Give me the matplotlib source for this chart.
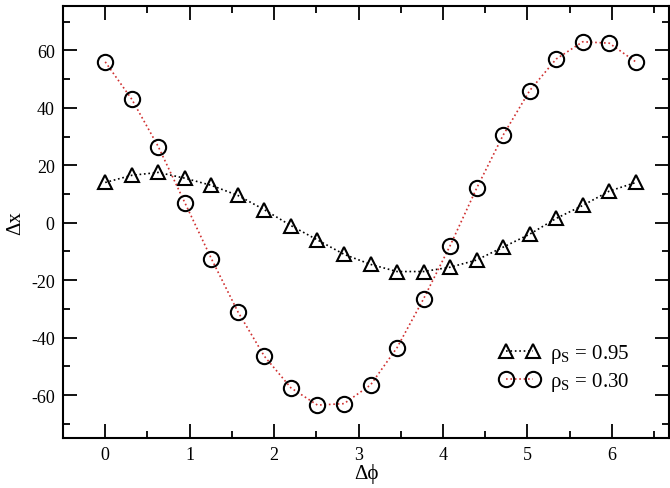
import numpy as np
import matplotlib.pyplot as plt
from matplotlib.ticker import MultipleLocator

plt.rcParams['font.family'] = ['Liberation Serif', 'DejaVu Serif']
plt.rcParams['mathtext.fontset'] = 'custom'
plt.rcParams['mathtext.rm'] = 'Liberation Serif'
plt.rcParams['axes.unicode_minus'] = False

# phase difference, 0..2pi in steps of pi/10
dphi = np.arange(21) * np.pi / 10
dx_095 = [14, 16.5, 17.5, 15.5, 13, 9.5, 4.5, -1, -6, -11, -14.5,
          -17, -17, -15.5, -13, -8.5, -4, 1.5, 6, 11, 14]
dx_030 = [56, 43, 26.5, 7, -12.5, -31, -46.5, -57.5, -63.5, -63, -56.5,
          -43.5, -26.5, -8, 12, 30.5, 46, 57, 63, 62.5, 56]
labels = [r'ρ$_\mathrm{S}$ = 0.95', r'ρ$_\mathrm{S}$ = 0.30']

fig = plt.figure(figsize=(6.7, 4.89), dpi=100)
ax = fig.add_axes([0.094, 0.102, 0.905, 0.884])

ax.plot(dphi, dx_095, ls=':', color='black', lw=1.2, marker='^', ms=10,
        mfc='none', mec='black', mew=1.5, label=labels[0])
ax.plot(dphi, dx_030, ls=':', color='#d03030', lw=1.2, marker='o', ms=11,
        mfc='none', mec='black', mew=1.5, label=labels[1])

ax.set_xlim(-0.5, 6.68)
ax.set_ylim(-75, 75.5)
ax.xaxis.set_major_locator(MultipleLocator(1))
ax.xaxis.set_minor_locator(MultipleLocator(0.5))
ax.yaxis.set_major_locator(MultipleLocator(20))
ax.yaxis.set_minor_locator(MultipleLocator(10))
ax.tick_params(which='both', direction='in', top=True, right=True, width=1.3)
ax.tick_params(which='major', length=10, labelsize=13, pad=6)
ax.tick_params(which='minor', length=5)
for s in ax.spines.values():
    s.set_linewidth(1.5)

ax.set_xlabel('Δϕ', fontsize=15, labelpad=0)
ax.set_ylabel('Δx', fontsize=15, labelpad=4)

ax.legend(loc='lower right', bbox_to_anchor=(0.965, 0.06), numpoints=2,
          frameon=False, fontsize=15, handlelength=1.9, handletextpad=0.5,
          labelspacing=0.25)

plt.savefig('out.png', dpi=100)
